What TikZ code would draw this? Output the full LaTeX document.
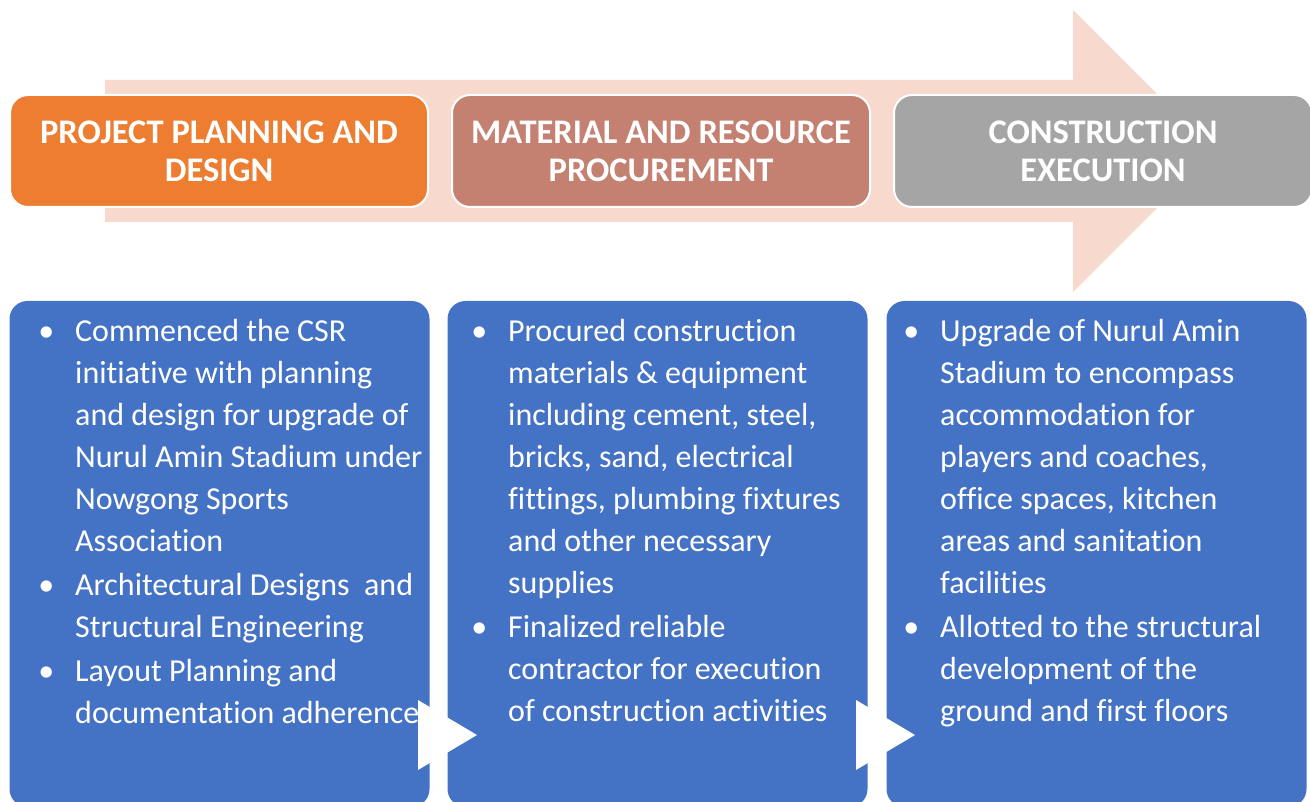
\documentclass[tikz,border=0pt]{standalone}
\usepackage{fontspec}
\setmainfont{Carlito}[Ligatures=NoCommon]
\usepackage{xcolor}
\usetikzlibrary{positioning}

\definecolor{planorange}{HTML}{ED7D31}
\definecolor{procrose}{HTML}{C48070}
\definecolor{execgray}{HTML}{A5A5A5}
\definecolor{detailblue}{HTML}{4472C4}
\definecolor{arrowpink}{HTML}{F8D9CE}

\newcommand{\itm}{\llap{\textbullet\hspace{21pt}}}

\tikzset{
  phasebox/.style={draw=white, line width=2pt, rounded corners=18pt,
    minimum width=418pt, minimum height=112pt, text=white, align=center,
    font=\bfseries\fontsize{34.5}{38}\selectfont},
  detailbox/.style={fill=detailblue, rounded corners=18pt,
    minimum width=420pt, minimum height=506pt},
  detailtext/.style={anchor=north west, inner sep=0pt, text=white,
    align=left, font=\fontsize{32}{42}\selectfont},
}

\begin{document}
\begin{tikzpicture}[x=1pt, y=-1pt]
    \useasboundingbox (0,0) rectangle (1310,802);

    % big arrow behind the phases
    \fill[arrowpink] (105,80) -- (1073,80) -- (1073,10) -- (1214,151)
        -- (1073,292) -- (1073,222) -- (105,222) -- cycle;

    % phases
    \node[phasebox, fill=planorange] (plan) at (219,151) {PROJECT PLANNING AND\\DESIGN};
    \node[phasebox, fill=procrose, right=22pt of plan] (proc) {MATERIAL AND RESOURCE\\PROCUREMENT};
    \node[phasebox, fill=execgray, right=22pt of proc] (exec) {CONSTRUCTION\\EXECUTION};

    % details
    \node[detailbox] (plandet) at (219.5,554) {};
    \node[detailbox] (procdet) at (657.5,554) {};
    \node[detailbox] (execdet) at (1096.5,554) {};

    \node[detailtext] (plantxt) at (75,312) {\itm\strut Commenced the CSR\\
        initiative with planning\\
        and design for upgrade of\\
        Nurul Amin Stadium under\\
        Nowgong Sports\\
        Association\\[2pt]
        \itm Architectural Designs~ and\\
        Structural Engineering\\[2pt]
        \itm Layout Planning and\\
        documentation adherence};
    \node[detailtext] (proctxt) at (508,312) {\itm\strut Procured construction\\
        materials \& equipment\\
        including cement, steel,\\
        bricks, sand, electrical\\
        fittings, plumbing fixtures\\
        and other necessary\\
        supplies\\[2pt]
        \itm Finalized reliable\\
        contractor for execution\\
        of construction activities};
    \node[detailtext] (exectxt) at (940,312) {\itm\strut Upgrade of Nurul Amin\\
        Stadium to encompass\\
        accommodation for\\
        players and coaches,\\
        office spaces, kitchen\\
        areas and sanitation\\
        facilities\\[2pt]
        \itm Allotted to the structural\\
        development of the\\
        ground and first floors};

    % white arrow heads between the details
    \fill[white] (418,700) -- (477,735) -- (418,770) -- cycle;
    \fill[white] (856,700) -- (915,735) -- (856,770) -- cycle;
\end{tikzpicture}
\end{document}
